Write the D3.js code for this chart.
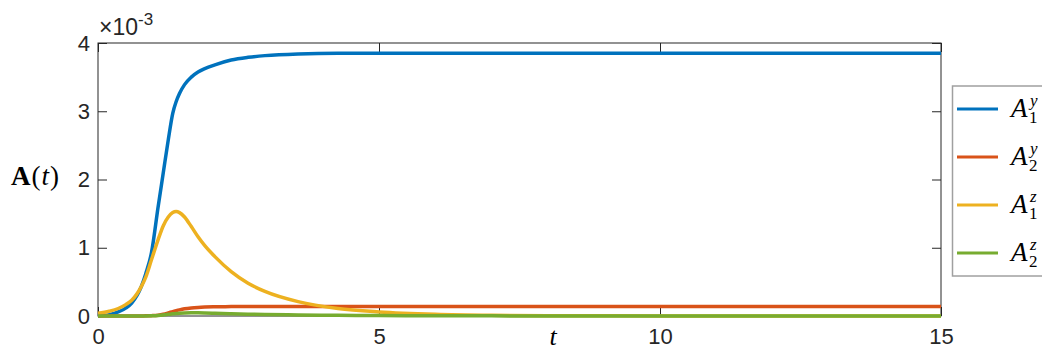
<!DOCTYPE html>
<html lang="en">
  <head>
    <meta charset="utf-8">
    <title>A(t)</title>
    <style>
      body { margin: 0; background: #fff; }
      svg { display: block; }
      .tick text { font-family: "Liberation Sans", Arial, sans-serif; fill: #262626; }
      .tex { font-family: "Liberation Serif", "DejaVu Serif", serif; fill: #000; }
    </style>
  </head>
  <body>
    <svg width="1042" height="350"></svg>
    <script src="https://cdn.jsdelivr.net/npm/d3@7"></script>
    <script>
      // time samples (shared by all series)
      const tVals = [0, 0.2, 0.36, 0.5, 0.6, 0.77, 0.85, 0.95, 1.07, 1.16, 1.25, 1.33, 1.39, 1.45, 1.54,
                     1.66, 1.78, 1.9, 2.08, 2.37, 2.67, 2.97, 3.56, 4.27, 5, 6, 7, 8, 10, 12, 15];
      // values in units of 1e-3
      const a1y = [0, 0.02, 0.06, 0.12, 0.19, 0.43, 0.62, 0.92, 1.60, 2.09, 2.58, 2.97, 3.14, 3.26, 3.39,
                   3.50, 3.575, 3.625, 3.68, 3.75, 3.79, 3.815, 3.84, 3.85, 3.85, 3.85, 3.85, 3.85, 3.85, 3.85, 3.85];
      const a2y = [0, 0, 0, 0, 0, 0.001, 0.002, 0.005, 0.012, 0.025, 0.045, 0.065, 0.078, 0.09, 0.105,
                   0.118, 0.126, 0.131, 0.135, 0.138, 0.139, 0.14, 0.14, 0.14, 0.14, 0.14, 0.14, 0.14, 0.14, 0.14, 0.14];
      const a1z = [0.04, 0.07, 0.11, 0.17, 0.23, 0.43, 0.57, 0.82, 1.12, 1.32, 1.45, 1.515, 1.53, 1.515, 1.45,
                   1.31, 1.16, 1.03, 0.87, 0.65, 0.48, 0.36, 0.21, 0.11, 0.06, 0.025, 0.01, 0.005, 0.001, 0, 0];
      const a2z = [0, 0, 0, 0, 0, 0, 0.001, 0.003, 0.008, 0.015, 0.024, 0.032, 0.037, 0.041, 0.045,
                   0.047, 0.046, 0.044, 0.04, 0.033, 0.027, 0.022, 0.015, 0.01, 0.006, 0.004, 0.002, 0.001, 0, 0, 0];

      const xTicks = [0, 5, 10, 15];
      const yTicks = [0, 1, 2, 3, 4];

      const series = [
        { name: 'A1y', sub: '1', sup: 'y', values: a1y, color: '#0072BD' },
        { name: 'A2y', sub: '2', sup: 'y', values: a2y, color: '#D95319' },
        { name: 'A1z', sub: '1', sup: 'z', values: a1z, color: '#EDB120' },
        { name: 'A2z', sub: '2', sup: 'z', values: a2z, color: '#77AC30' }
      ];

      const svg = d3.select('svg');
      const m = { left: 98, right: 941, top: 43, bottom: 316 };

      const x = d3.scaleLinear().domain([0, 15]).range([m.left, m.right]);
      const y = d3.scaleLinear().domain([0, 4]).range([m.bottom, m.top]);

      const line = d3.line()
        .x(function(d) { return x(d[0]); })
        .y(function(d) { return y(d[1]); })
        .curve(d3.curveMonotoneX);

      // axes (MATLAB style: ticks inside, mirrored)
      const axisColor = '#262626';
      const tickLen = 9;
      const fmt = d3.format('d');

      svg.append('g')
        .attr('transform', 'translate(0,' + m.bottom + ')')
        .call(d3.axisBottom(x).tickValues(xTicks).tickFormat(fmt).tickSize(-tickLen).tickPadding(12))
        .call(function(g) {
          g.select('.domain').remove();
          g.selectAll('.tick line').attr('stroke', axisColor);
          g.selectAll('.tick text').attr('font-size', 22).attr('dy', '0.71em');
        });
      svg.append('g')
        .attr('transform', 'translate(0,' + m.top + ')')
        .call(d3.axisTop(x).tickValues(xTicks).tickSize(-tickLen).tickFormat(''))
        .call(function(g) {
          g.select('.domain').remove();
          g.selectAll('.tick line').attr('stroke', axisColor);
        });
      svg.append('g')
        .attr('transform', 'translate(' + m.left + ',0)')
        .call(d3.axisLeft(y).tickValues(yTicks).tickFormat(fmt).tickSize(-tickLen).tickPadding(8))
        .call(function(g) {
          g.select('.domain').remove();
          g.selectAll('.tick line').attr('stroke', axisColor);
          g.selectAll('.tick text').attr('font-size', 22);
        });
      svg.append('g')
        .attr('transform', 'translate(' + m.right + ',0)')
        .call(d3.axisRight(y).tickValues(yTicks).tickSize(-tickLen).tickFormat(''))
        .call(function(g) {
          g.select('.domain').remove();
          g.selectAll('.tick line').attr('stroke', axisColor);
        });

      svg.append('rect')
        .attr('x', m.left).attr('y', m.top)
        .attr('width', m.right - m.left).attr('height', m.bottom - m.top)
        .attr('fill', 'none').attr('stroke', axisColor).attr('stroke-width', 1);

      svg.append('g').selectAll('path')
        .data(series).enter()
        .append('path')
        .attr('fill', 'none')
        .attr('stroke', function(d) { return d.color; })
        .attr('stroke-width', 3.5)
        .attr('stroke-linejoin', 'round')
        .attr('d', function(d) {
          return line(tVals.map(function(t, i) { return [t, d.values[i]]; }));
        });

      // exponent label
      const expo = svg.append('text')
        .attr('x', m.left + 1).attr('y', 35)
        .attr('font-family', '"Liberation Sans", Arial, sans-serif')
        .attr('font-size', 23).attr('fill', axisColor);
      expo.append('tspan').text('\u00d710');
      expo.append('tspan').attr('dy', -10).attr('font-size', 17).text('-3');

      // y label A(t)
      const yl = svg.append('text').attr('class', 'tex')
        .attr('x', 11).attr('y', 185).attr('font-size', 27).attr('letter-spacing', 1);
      yl.append('tspan').attr('font-weight', 'bold').text('A');
      yl.append('tspan').text('(');
      yl.append('tspan').attr('font-style', 'italic').text('t');
      yl.append('tspan').text(')');

      // x label t
      svg.append('text').attr('class', 'tex')
        .attr('x', x(8.1)).attr('y', 345)
        .attr('text-anchor', 'middle')
        .attr('font-size', 26).attr('font-style', 'italic')
        .text('t');

      // legend
      const lg = svg.append('g');
      lg.append('rect')
        .attr('x', 952.5).attr('y', 86)
        .attr('width', 110).attr('height', 190)
        .attr('fill', '#fff').attr('stroke', '#a0a0a0').attr('stroke-width', 1.5);

      const legendY = d3.scalePoint().domain(series.map(function(d) { return d.name; }))
        .range([109, 253]);

      const items = lg.selectAll('g.item')
        .data(series).enter()
        .append('g').attr('class', 'item')
        .attr('transform', function(d) { return 'translate(0,' + legendY(d.name) + ')'; });

      items.append('line')
        .attr('x1', 957).attr('x2', 998)
        .attr('stroke', function(d) { return d.color; })
        .attr('stroke-width', 3);

      items.each(function(d) {
        const g = d3.select(this);
        g.append('text').attr('class', 'tex')
          .attr('x', 1011).attr('y', 8)
          .attr('font-size', 27).attr('font-style', 'italic')
          .text('A');
        g.append('text').attr('class', 'tex')
          .attr('x', 1030).attr('y', -3)
          .attr('font-size', 17).attr('font-style', 'italic')
          .text(d.sup);
        g.append('text').attr('class', 'tex')
          .attr('x', 1029).attr('y', 14)
          .attr('font-size', 17)
          .text(d.sub);
      });
    </script>
  </body>
</html>
